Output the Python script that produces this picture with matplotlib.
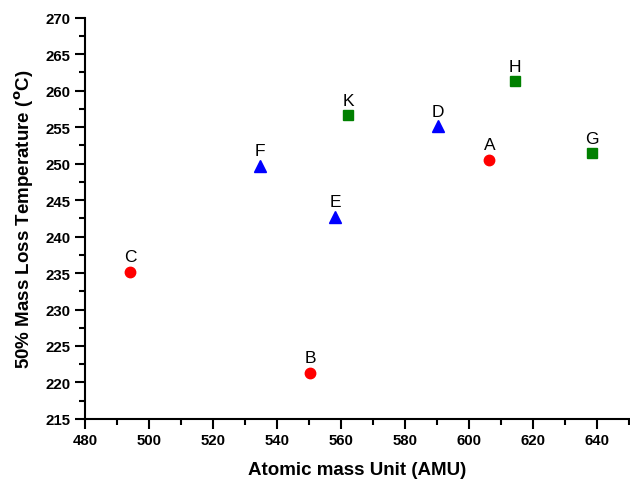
import numpy as np
import matplotlib
matplotlib.use('Agg')
import matplotlib.pyplot as plt

plt.rcParams['font.family'] = ['Liberation Sans', 'DejaVu Sans']

# red circles
circ_labels = ['A', 'B', 'C']
circ_x = [606.4, 550.3, 494.1]
circ_y = [250.5, 221.3, 235.2]

# blue triangles
tri_labels = ['D', 'E', 'F']
tri_x = [590.3, 558.2, 534.7]
tri_y = [255.1, 242.7, 249.7]

# green squares
sq_labels = ['G', 'H', 'K']
sq_x = [638.5, 614.5, 562.3]
sq_y = [251.4, 261.3, 256.6]

fig = plt.figure(figsize=(6.3, 4.81), dpi=100)
ax = fig.add_axes([0.135, 0.127, 0.863, 0.834])

ax.plot(circ_x, circ_y, 'o', color='red', markersize=7.5, linestyle='none')
ax.plot(tri_x, tri_y, '^', color='blue', markersize=8, linestyle='none')
ax.plot(sq_x, sq_y, 's', color='green', markersize=6.5, linestyle='none')

for labs, xs, ys in [(circ_labels, circ_x, circ_y), (tri_labels, tri_x, tri_y), (sq_labels, sq_x, sq_y)]:
    for lab, x, y in zip(labs, xs, ys):
        ax.annotate(lab, (x, y), xytext=(0, 5.5), textcoords='offset points',
                    ha='center', va='bottom', fontsize=12.5)

ax.set_xlim(480, 650)
ax.set_ylim(215, 270)
ax.set_xticks(np.arange(480, 641, 20))
ax.set_xticks(np.arange(490, 651, 10), minor=True)
ax.set_yticks(np.arange(215, 271, 5))
ax.set_yticks(np.arange(217.5, 270, 5), minor=True)

for s in ['top', 'right']:
    ax.spines[s].set_visible(False)
for s in ['left', 'bottom']:
    ax.spines[s].set_linewidth(1.5)

ax.tick_params(which='major', length=7, width=1.5, labelsize=10.8, direction='out')
ax.tick_params(which='minor', length=4, width=1.5, direction='out')
for lbl in ax.get_xticklabels() + ax.get_yticklabels():
    lbl.set_fontweight('bold')

ax.set_xlabel('Atomic mass Unit (AMU)', fontsize=13.5, fontweight='bold', labelpad=10)
ax.set_ylabel(r'50% Mass Loss Temperature ($^{\mathbf{o}}$C)', fontsize=13.5, fontweight='bold', labelpad=7)

fig.savefig('out.png', dpi=100)
